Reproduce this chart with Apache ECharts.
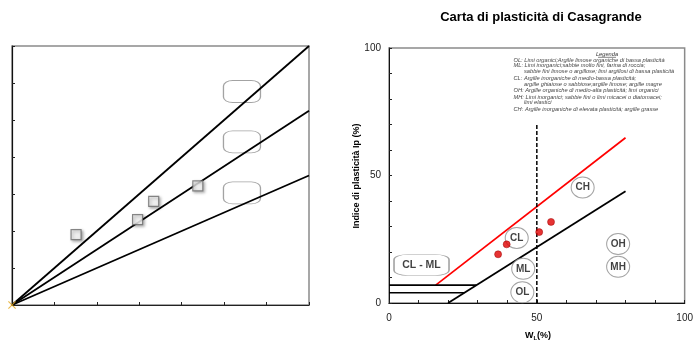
<!DOCTYPE html>
<html>
<head>
<meta charset="utf-8">
<script src="https://cdn.jsdelivr.net/npm/echarts@6/dist/echarts.min.js"></script>
<style>
  html, body { margin: 0; padding: 0; background: #fff; }
  #chart { width: 696px; height: 343px; }
</style>
</head>
<body>
<div id="chart"></div>
<script>
// ---- Left panel: ratio lines through the origin and sample squares ----
const leftSampleX = [1.51, 2.96, 3.34, 4.38];
const leftSampleY = [1.90, 2.31, 2.80, 3.22];
const leftRaySteep = [[0, 0], [7, 7]];
const leftRayMid = [[0, 0], [7, 5.25]];
const leftRayLow = [[0, 0], [7, 3.5]];
const leftEmptyBoxes = [[5.42, 5.77], [5.42, 4.41], [5.42, 3.03]];

// ---- Right panel: Casagrande plasticity chart ----
const sampleWL = [36.9, 39.8, 50.8, 54.8];
const sampleIp = [19.1, 23.0, 27.8, 31.8];
const aLine = [[20, 0], [80, 43.8]];
const uLine = [[15.8, 7], [80, 64.8]];
const clmlTop = [[0, 7], [29.6, 7]];
const clmlBottom = [[0, 4], [25.5, 4]];
const wl50 = [[50, 0], [50, 70.6]];
const zoneLabels = [
  { name: 'CH', wl: 65.5, ip: 45.3 },
  { name: 'CL', wl: 43.2, ip: 25.5 },
  { name: 'ML', wl: 45.4, ip: 13.4 },
  { name: 'OL', wl: 45.1, ip: 4.2 },
  { name: 'OH', wl: 77.5, ip: 23.1 },
  { name: 'MH', wl: 77.5, ip: 14.2 }
];
const clmlBox = { name: 'CL - ML', wl: 11.0, ip: 14.9 };
const xTickLabels = [0, 50, 100];
const yTickLabels = [0, 50, 100];

const chartTitle = 'Carta di plasticità di Casagrande';
const yAxisTitle = 'Indice di plasticità Ip (%)';
const legendTitle = 'Legenda';
const legendLines = [
  { text: 'OL: Limi organici;Argille limose organiche di bassa plasticità', indent: false },
  { text: 'ML: Limi inorganici;sabbie molto fini, farina di roccia;', indent: false },
  { text: 'sabbie fini limose o argillose; limi argillosi di bassa plasticità', indent: true },
  { text: 'CL: Argille inorganiche di medio-bassa plasticità;', indent: false },
  { text: 'argille ghiaiose o sabbiose;argille limose; argille magre', indent: true },
  { text: 'OH: Argille organiche di medio-alta plasticità; limi organici', indent: false },
  { text: 'MH: Limi inorganici; sabbie fini o limi micacei o diatomacei;', indent: false },
  { text: 'limi elastici', indent: true },
  { text: 'CH: Argille inorganiche di elevata plasticità; argille grasse', indent: false }
];
const legendLineY = [60, 65.8, 71.8, 78, 84, 90, 97.3, 102.8, 109.4];

const FONT = 'Liberation Sans, Arial, sans-serif';
const chart = echarts.init(document.getElementById('chart'), null, { renderer: 'canvas' });

function lineSeries(data, xi, yi, color, width, type) {
  return {
    type: 'line', xAxisIndex: xi, yAxisIndex: yi, data: data,
    symbol: 'none', silent: true, animation: false, z: 3,
    lineStyle: { color: color, width: width, type: type || 'solid' }
  };
}

const graphics = [];
graphics.push({
  type: 'text', x: 541, y: 17,
  style: { text: chartTitle, font: 'bold 13px ' + FONT, fill: '#000', align: 'center', verticalAlign: 'middle' }
});
graphics.push({
  type: 'text', x: 357, y: 176, rotation: Math.PI / 2,
  style: { text: yAxisTitle, font: 'bold 9px ' + FONT, fill: '#000', align: 'center', verticalAlign: 'middle' }
});
graphics.push({
  type: 'text', x: 607, y: 54,
  style: { text: legendTitle, font: 'italic 5.7px ' + FONT, fill: '#333', align: 'center', verticalAlign: 'middle' }
});
graphics.push({
  type: 'line', shape: { x1: 598, y1: 57.3, x2: 616, y2: 57.3 },
  style: { stroke: '#333', lineWidth: 0.6 }
});
legendLines.forEach(function (ln, i) {
  graphics.push({
    type: 'text', x: ln.indent ? 524 : 513.5, y: legendLineY[i],
    style: { text: ln.text, font: 'italic 5.7px ' + FONT, fill: '#444', align: 'left', verticalAlign: 'middle' }
  });
});
graphics.push({
  type: 'text', x: 538, y: 336,
  style: {
    text: '{w|W}{s|L}{w|(%)}', align: 'center', verticalAlign: 'middle',
    rich: {
      w: { font: 'bold 9px ' + FONT, fill: '#000' },
      s: { font: 'bold 6px ' + FONT, fill: '#000', padding: [5, 0, 0, 0] }
    }
  }
});

const option = {
  backgroundColor: '#fff',
  animation: false,
  graphic: graphics,
  grid: [
    { left: 12, top: 46, width: 297, height: 259, show: true, borderColor: '#8a8a8a', borderWidth: 1.5, backgroundColor: 'transparent' },
    { left: 389, top: 48, width: 298, height: 255, show: true, borderColor: '#8a8a8a', borderWidth: 1.5, backgroundColor: 'transparent' }
  ],
  xAxis: [
    {
      gridIndex: 0, type: 'value', min: 0, max: 7, interval: 1,
      axisLine: { show: true, onZero: false, lineStyle: { color: '#222', width: 1 } },
      axisTick: { show: true, inside: true, length: 3, lineStyle: { color: '#222' } },
      axisLabel: { show: false }, splitLine: { show: false }
    },
    {
      gridIndex: 1, type: 'value', min: 0, max: 100, interval: 10,
      axisLine: { show: true, onZero: false, lineStyle: { color: '#111', width: 1 } },
      axisTick: { show: true, inside: true, length: 3, lineStyle: { color: '#222' } },
      axisLabel: {
        show: true, margin: 10, fontSize: 10, fontFamily: FONT, color: '#222',
        formatter: function (v) { return xTickLabels.indexOf(v) >= 0 ? String(v) : ''; }
      },
      splitLine: { show: false }
    }
  ],
  yAxis: [
    {
      gridIndex: 0, type: 'value', min: 0, max: 7, interval: 1,
      axisLine: { show: true, onZero: false, lineStyle: { color: '#111', width: 1.2 } },
      axisTick: { show: true, inside: true, length: 3, lineStyle: { color: '#222' } },
      axisLabel: { show: false }, splitLine: { show: false }
    },
    {
      gridIndex: 1, type: 'value', min: 0, max: 100, interval: 10,
      axisLine: { show: true, onZero: false, lineStyle: { color: '#111', width: 1 } },
      axisTick: { show: true, inside: true, length: 3, lineStyle: { color: '#222' } },
      axisLabel: {
        show: true, margin: 8, fontSize: 10, fontFamily: FONT, color: '#222',
        formatter: function (v) { return yTickLabels.indexOf(v) >= 0 ? String(v) : ''; }
      },
      splitLine: { show: false }
    }
  ],
  series: [
    // left panel
    lineSeries(leftRaySteep, 0, 0, '#000', 1.8),
    lineSeries(leftRayMid, 0, 0, '#000', 1.8),
    lineSeries(leftRayLow, 0, 0, '#000', 1.8),
    {
      type: 'scatter', xAxisIndex: 0, yAxisIndex: 0, z: 4, silent: true,
      data: leftSampleX.map(function (x, i) { return [x, leftSampleY[i]]; }),
      symbol: 'rect', symbolSize: 10,
      itemStyle: {
        color: '#fff', borderColor: '#6a6a6a', borderWidth: 1.2,
        shadowColor: 'rgba(0,0,0,0.45)', shadowBlur: 3, shadowOffsetX: 1.5, shadowOffsetY: 1.5
      }
    },
    {
      type: 'scatter', xAxisIndex: 0, yAxisIndex: 0, z: 2, silent: true,
      data: leftEmptyBoxes, symbol: 'roundRect', symbolSize: [37, 22],
      itemStyle: { color: 'rgba(255,255,255,0)', borderColor: '#8c8c8c', borderWidth: 1 }
    },
    {
      type: 'scatter', xAxisIndex: 0, yAxisIndex: 0, z: 6, silent: true,
      data: [[0, 0]],
      symbol: 'path://M0,1 L1,0 L5,4 L9,0 L10,1 L6,5 L10,9 L9,10 L5,6 L1,10 L0,9 L4,5 Z',
      symbolSize: 8, itemStyle: { color: '#e3a81e' }
    },
    // right panel
    lineSeries(aLine, 1, 1, '#000', 1.8),
    lineSeries(uLine, 1, 1, '#ff0000', 1.7),
    lineSeries(clmlTop, 1, 1, '#000', 1.6),
    lineSeries(clmlBottom, 1, 1, '#000', 1.6),
    lineSeries(wl50, 1, 1, '#000', 1.5, [4, 2]),
    {
      type: 'scatter', xAxisIndex: 1, yAxisIndex: 1, z: 4, silent: true,
      data: zoneLabels.map(function (d) { return { value: [d.wl, d.ip], name: d.name }; }),
      symbol: 'circle', symbolSize: [23, 21],
      itemStyle: { color: '#fff', borderColor: '#8c8c8c', borderWidth: 1 },
      label: { show: true, position: 'inside', formatter: '{b}', fontFamily: FONT, fontWeight: 'bold', fontSize: 10, color: '#111' }
    },
    {
      type: 'scatter', xAxisIndex: 1, yAxisIndex: 1, z: 4, silent: true,
      data: [{ value: [clmlBox.wl, clmlBox.ip], name: clmlBox.name }],
      symbol: 'roundRect', symbolSize: [55, 21],
      itemStyle: { color: '#fff', borderColor: '#8c8c8c', borderWidth: 1 },
      label: { show: true, position: 'inside', formatter: '{b}', fontFamily: FONT, fontWeight: 'bold', fontSize: 10.5, color: '#111' }
    },
    {
      type: 'scatter', xAxisIndex: 1, yAxisIndex: 1, z: 5, silent: true,
      data: sampleWL.map(function (x, i) { return [x, sampleIp[i]]; }),
      symbol: 'circle', symbolSize: 7,
      itemStyle: { color: '#e00000', borderColor: '#900', borderWidth: 0.6 }
    }
  ]
};
chart.setOption(option);
</script>
</body>
</html>
